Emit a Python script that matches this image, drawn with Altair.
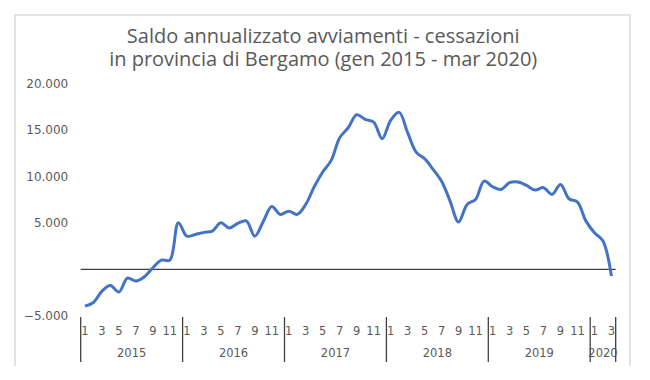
import altair as alt
import pandas as pd

# Data (monthly, Jan 2015 - Mar 2020)
years = [2015, 2016, 2017, 2018, 2019, 2020]
months_per_year = [12, 12, 12, 12, 12, 3]
shown_months = [1, 3, 5, 7, 9, 11]
values = [
    -3940, -3550, -2330, -1720, -2430, -930, -1250, -790, 180, 1000, 1000, 5000,
    3570, 3750, 3970, 4100, 5000, 4450, 4940, 5200, 3570, 5150, 6760, 5900,
    6250, 5900, 6970, 8870, 10450, 11700, 14130, 15200, 16600, 16100, 15800, 14030,
    16000, 16850, 14670, 12590, 11880, 10730, 9470, 7330, 5080, 6970, 7510, 9470,
    8870, 8580, 9300, 9370, 9010, 8510, 8770, 8050, 9120, 7580, 7220, 5180,
    3940, 3040, -720,
]

# build tables
idx = list(range(len(values)))
line_df = pd.DataFrame({"i": idx, "v": values})

mlab, ylab, seps = [], [], [-0.5]
start = 0
for y, n in zip(years, months_per_year):
    for m in range(1, n + 1):
        if m in shown_months:
            mlab.append({"i": start + m - 1, "t": str(m)})
    ylab.append({"i": start + (n - 1) / 2, "t": str(y)})
    start += n
    seps.append(start - 0.5)
mlab_df = pd.DataFrame(mlab)
ylab_df = pd.DataFrame(ylab)
sep_df = pd.DataFrame({"i": seps})

W, H = 535, 233
xscale = alt.Scale(domain=[-0.5, len(values) - 0.5], nice=False, zero=False)
yscale = alt.Scale(domain=[-5000, 20000], nice=False)
GREY = "#595959"

frame = alt.Chart(pd.DataFrame({"a": [0]})).mark_rect(
    fill=None, stroke="#d9d9d9", strokeWidth=1.5
).encode(
    x=alt.value(-65.7), x2=alt.value(549.3), y=alt.value(-68), y2=alt.value(285)
)

line = alt.Chart(line_df).mark_line(
    color="#4472C4", strokeWidth=3, interpolate="catmull-rom"
).encode(
    x=alt.X("i:Q", scale=xscale, axis=None),
    y=alt.Y(
        "v:Q",
        scale=yscale,
        axis=alt.Axis(
            values=[-5000, 0, 5000, 10000, 15000, 20000],
            labelExpr="datum.value == 0 ? '' : replace(format(datum.value, ','), ',', '.')",
            domain=False, ticks=False, grid=False, title=None,
            labelFont="DejaVu Sans", labelFontSize=12, labelColor=GREY,
            labelPadding=13,
        ),
    ),
)

zero = alt.Chart(pd.DataFrame({"z": [0]})).mark_rule(
    color="#404040", strokeWidth=1.3
).encode(y=alt.Y("z:Q", scale=yscale))

months = alt.Chart(mlab_df).mark_text(
    font="DejaVu Sans", fontSize=11.5, color=GREY, baseline="middle"
).encode(x=alt.X("i:Q", scale=xscale), y=alt.value(249), text="t:N")

yrs = alt.Chart(ylab_df).mark_text(
    font="DejaVu Sans", fontSize=11.5, color=GREY, baseline="middle"
).encode(x=alt.X("i:Q", scale=xscale), y=alt.value(271), text="t:N")

sep = alt.Chart(sep_df).mark_rule(color="#404040", strokeWidth=1.3).encode(
    x=alt.X("i:Q", scale=xscale), y=alt.value(234), y2=alt.value(279)
)

chart = alt.layer(frame, zero, line, sep, months, yrs).properties(
    width=W,
    height=H,
    title=alt.TitleParams(
        ["Saldo annualizzato avviamenti - cessazioni",
         "in provincia di Bergamo (gen 2015 - mar 2020)"],
        font="Open Sans", fontSize=20, fontWeight="normal", color=GREY,
        anchor="middle", dx=-25, dy=68, offset=12, lineHeight=23,
    ),
    autosize=alt.AutoSizeParams(type="none"),
    padding={"left": 72.7, "top": 75, "right": 20, "bottom": 50},
).configure_view(stroke=None)

chart.save("out.html", embed_options={"renderer": "svg", "actions": False})
